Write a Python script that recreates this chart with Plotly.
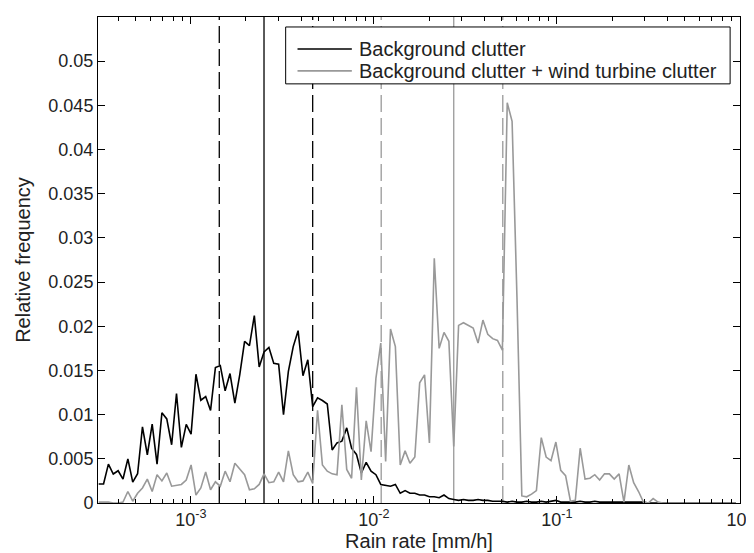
import numpy as np
import plotly.graph_objs as go

# relative frequency per rain-rate bin (log spaced bins)
background = [
    0.00215, 0.00215, 0.0044, 0.00328, 0.00365, 0.00271, 0.0050, 0.00237, 0.00331, 0.00862,
    0.00546, 0.00892, 0.0044, 0.0102, 0.00952, 0.00659, 0.01239, 0.00629, 0.0089, 0.0078,
    0.01457, 0.01163, 0.01205, 0.01047, 0.01532, 0.01555, 0.0127, 0.01465, 0.0113, 0.0145,
    0.0183, 0.0178, 0.0212, 0.0154, 0.0171, 0.0176, 0.0158, 0.0157, 0.0100, 0.0149,
    0.0177, 0.0195, 0.0144, 0.0162, 0.0109, 0.0119, 0.0116, 0.0112, 0.0060, 0.0068,
    0.0070, 0.0085, 0.0062, 0.0055, 0.0034, 0.0046, 0.0036, 0.0032, 0.0021, 0.0020,
    0.0019, 0.0021, 0.0011, 0.0014, 0.0011, 0.0011, 0.0009, 0.0009, 0.0007, 0.0007,
    0.0006, 0.0009, 0.0005, 0.0004, 0.0003, 0.0004, 0.0003, 0.0003, 0.0004, 0.0003,
    0.0003, 0.0002, 0.0002, 0.0002, 0.0001, 0.0002, 0.0001, 0.0001, 0.0002, 0.0001,
    0.0001, 0.0002, 0.0001, 0.0002, 0.0003, 0.0001, 0.0001, 0.0001, 0.0001, 0.0002,
    0.0001, 0.0001, 0.0002, 0.0001, 0.0001, 0.0001, 0.0001, 0.0001, 0.0001, 0.0001,
    0.0001, 0.0001, 0.0001, 0, 0, 0, 0, 0, 0, 0,
    0, 0, 0, 0, 0, 0, 0, 0, 0, 0,
    0, 0,
]
with_turbine = [
    0.0001, 0.0001, 0.0001, 0, 0, 0.0001, 0.0013, 0.0002, 0.0011, 0.0017,
    0.0027, 0.0013, 0.0032, 0.0025, 0.0034, 0.0019, 0.0020, 0.0021, 0.0026, 0.0043,
    0.0009, 0.0017, 0.0035, 0.0015, 0.0024, 0.0019, 0.0036, 0.0024, 0.0045, 0.0038,
    0.0032, 0.0015, 0.0016, 0.0021, 0.0033, 0.0023, 0.0024, 0.0035, 0.0024, 0.0059,
    0.0032, 0.0024, 0.0025, 0.0035, 0.0022, 0.0105, 0.0043, 0.0036, 0.0033, 0.0032,
    0.0111, 0.0038, 0.0028, 0.0131, 0.0026, 0.0093, 0.0058, 0.0141, 0.0181, 0.0047,
    0.0197, 0.0177, 0.0043, 0.0059, 0.0045, 0.0052, 0.0136, 0.0145, 0.0068, 0.0277,
    0.0175, 0.0193, 0.0183, 0.0064, 0.0201, 0.0204, 0.0201, 0.0198, 0.0181, 0.0207,
    0.0191, 0.0186, 0.0184, 0.0173, 0.0453, 0.0432, 0.0233, 0.0008, 0.0007, 0.0010,
    0.0014, 0.0074, 0.0052, 0.0048, 0.0069, 0.0037, 0.0031, 0.0002, 0.0003, 0.0062,
    0.0027, 0.0028, 0.0032, 0.0026, 0.0033, 0.0033, 0.0027, 0.0033, 0.0001, 0.0043,
    0.0023, 0.0013, 0.0001, 0, 0.0005, 0.0001, 0, 0, 0, 0,
    0, 0, 0, 0, 0, 0, 0, 0, 0, 0,
    0, 0,
]

# bin centres: first bin and step in decades
log_start = -3.5035
log_step = 0.02657
rain_rate = 10 ** (log_start + log_step * np.arange(len(background)))

# vertical markers [mm/h]: (q_low, median, q_high) for each case
bg_lines = [0.00143, 0.00251, 0.00463]
wt_lines = [0.01096, 0.0273, 0.0506]

names = ['Background clutter', 'Background clutter + wind turbine clutter']

black = '#000000'
gray = '#999999'
txt = '#222222'
font = 'Liberation Sans, Arial, sans-serif'
y_top = 0.055
dashes = ['17px,6px', 'solid', '17px,6px']

fig = go.Figure()

for v, d in zip(bg_lines, dashes):
    fig.add_trace(go.Scatter(x=[v, v], y=[0, y_top], mode='lines', showlegend=False,
                             line=dict(color=black, width=1.3, dash=d), hoverinfo='skip'))
for v, d in zip(wt_lines, dashes):
    fig.add_trace(go.Scatter(x=[v, v], y=[0, y_top], mode='lines', showlegend=False,
                             line=dict(color=gray, width=1.3, dash=d), hoverinfo='skip'))

fig.add_trace(go.Scatter(x=rain_rate, y=background, mode='lines', name=names[0],
                         showlegend=False, line=dict(color=black, width=1.6)))
fig.add_trace(go.Scatter(x=rain_rate, y=with_turbine, mode='lines', name=names[1],
                         showlegend=False, line=dict(color=gray, width=1.6)))

# legend drawn by hand (box, line samples, labels) in paper coordinates
def px(x):
    return (x - 90) / 650.0


def py(y):
    return (495 - y) / 487.0


shapes = [dict(type='rect', xref='paper', yref='paper', x0=px(280), x1=px(730),
               y0=py(75), y1=py(18), line=dict(color=black, width=1), fillcolor='white',
               layer='above')]
annotations = []
for row, (name, col) in enumerate(zip(names, [black, gray])):
    yl = 40 + 22 * row
    shapes.append(dict(type='line', xref='paper', yref='paper', x0=px(292), x1=px(347),
                       y0=py(yl), y1=py(yl), line=dict(color=col, width=1.6), layer='above'))
    annotations.append(dict(text=name, xref='paper', yref='paper', x=px(352), y=py(yl),
                            xanchor='left', yanchor='middle', showarrow=False,
                            font=dict(size=20, family=font, color=txt)))

minor_x = [k * 10.0 ** e for e in range(-4, 0) for k in range(2, 10) if k * 10.0 ** e > 3.11e-4]
y_ticks = [i * 0.005 for i in range(11)]
y_text = ['0', '0.005', '0.01', '0.015', '0.02', '0.025', '0.03', '0.035', '0.04', '0.045', '0.05']

fig.update_layout(
    width=754, height=553,
    margin=dict(l=90, r=14, t=8, b=58),
    paper_bgcolor='white', plot_bgcolor='white',
    font=dict(family=font, size=18, color=txt),
    shapes=shapes, annotations=annotations,
    xaxis=dict(type='log', range=[np.log10(3.11e-4), 0],
               tickvals=[1e-3, 1e-2, 1e-1, 1],
               ticktext=['10<sup>-3</sup>', '10<sup>-2</sup>', '10<sup>-1</sup>', '10<sup>0</sup>'],
               ticks='inside', ticklen=7, tickcolor=black, tickwidth=1,
               minor=dict(tickvals=minor_x, ticks='inside', ticklen=4, tickcolor=black),
               showline=True, linecolor=black, linewidth=1, mirror='allticks',
               showgrid=False, zeroline=False,
               title=dict(text='Rain rate [mm/h]', font=dict(size=20), standoff=2)),
    yaxis=dict(range=[0, y_top], tickvals=y_ticks, ticktext=y_text,
               ticks='inside', ticklen=7, tickcolor=black, tickwidth=1,
               showline=True, linecolor=black, linewidth=1, mirror='allticks',
               showgrid=False, zeroline=False,
               title=dict(text='Relative frequency', font=dict(size=20), standoff=12)),
)

fig.write_html("out.html")
